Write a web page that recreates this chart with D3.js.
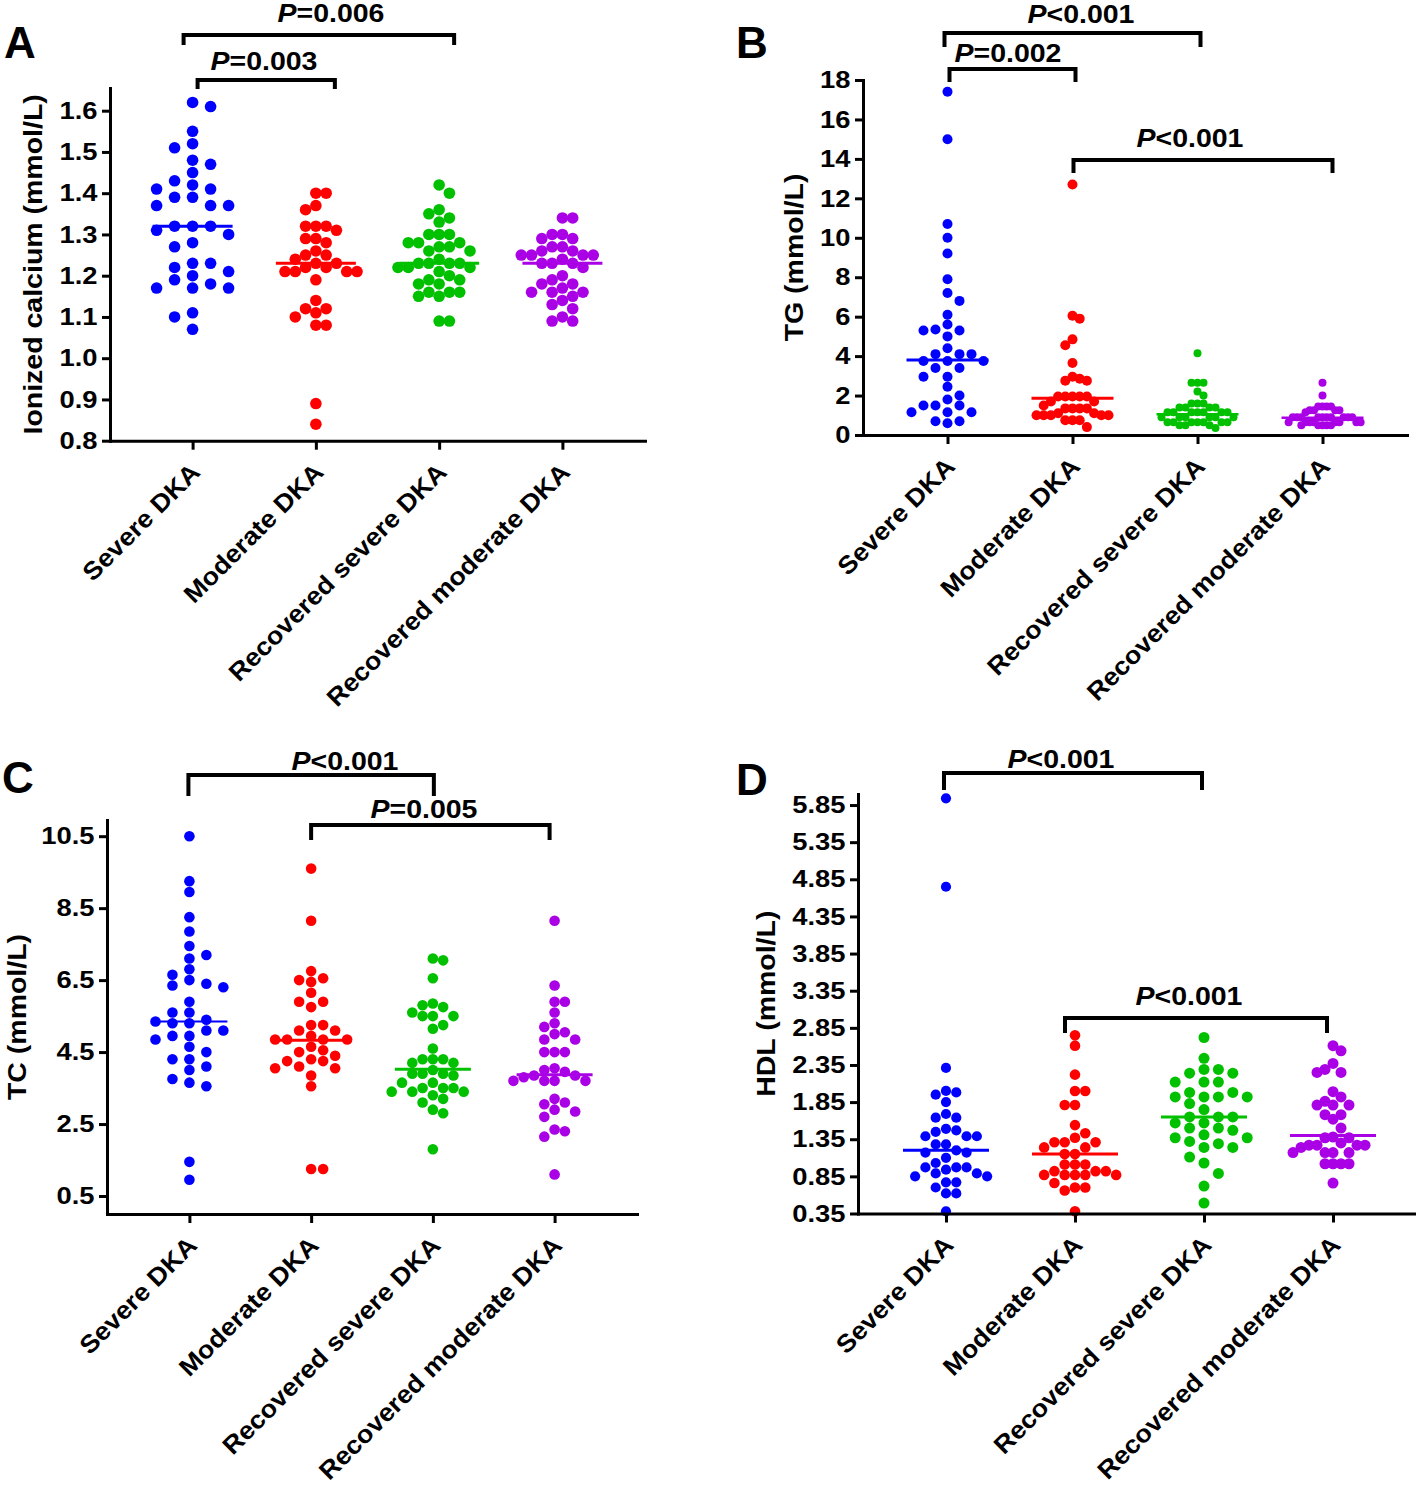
<!DOCTYPE html>
<html><head><meta charset="utf-8">
<script src="https://cdn.jsdelivr.net/npm/d3@7"></script>
<style>
body{margin:0;background:#fff}
svg{display:block}
text{font-family:"Liberation Sans",Arial,sans-serif;font-weight:bold;fill:#000}
</style>
</head><body>
<svg id="chart" width="1416" height="1493"></svg>
<script>
// ---------------- DATA ----------------
const categories = ["Severe DKA","Moderate DKA","Recovered severe DKA","Recovered moderate DKA"];
const groupColors = ["#0000ff","#ff0000","#00c000","#aa00e6"];

// Panel A: Ionized calcium (mmol/L)
const caSevere = [1.62,1.61,1.55,1.52,1.51,1.48,1.47,1.45,1.43,1.42,1.41,1.41,1.39,1.39,1.37,1.37,1.37,1.32,1.32,1.32,1.31,1.30,1.28,1.27,1.23,1.23,1.22,1.21,1.20,1.19,1.18,1.17,1.17,1.17,1.11,1.10,1.07];
const caModerate = [1.40,1.40,1.37,1.36,1.32,1.32,1.32,1.31,1.29,1.29,1.28,1.26,1.25,1.25,1.24,1.23,1.23,1.22,1.22,1.21,1.21,1.21,1.21,1.19,1.14,1.12,1.12,1.11,1.10,1.08,1.08,0.89,0.84];
const caRecSevere = [1.42,1.40,1.36,1.35,1.34,1.33,1.30,1.30,1.30,1.28,1.28,1.28,1.27,1.27,1.26,1.26,1.24,1.23,1.23,1.23,1.23,1.22,1.22,1.22,1.21,1.20,1.19,1.19,1.18,1.18,1.16,1.16,1.16,1.15,1.15,1.09,1.09];
const caRecModerate = [1.34,1.34,1.30,1.30,1.29,1.29,1.27,1.27,1.26,1.26,1.25,1.25,1.25,1.25,1.24,1.23,1.23,1.23,1.22,1.20,1.19,1.18,1.18,1.17,1.16,1.16,1.16,1.15,1.14,1.13,1.12,1.10,1.09,1.09];
const caMedians = [1.32,1.23,1.23,1.23];
const caTicks = [0.8,0.9,1.0,1.1,1.2,1.3,1.4,1.5,1.6];

// Panel B: TG (mmol/L)
const tgSevere = [17.4,15.0,10.7,10.0,9.2,7.9,7.2,6.8,6.1,5.6,5.35,5.3,5.3,5.0,4.4,4.1,4.1,4.1,3.75,3.75,3.75,3.4,3.4,2.95,2.95,2.45,2.0,1.8,1.5,1.5,1.5,1.15,1.15,1.15,0.7,0.7,0.6];
const tgModerate = [12.7,6.05,5.9,4.85,4.55,3.65,2.95,2.85,2.75,2.75,1.95,1.95,1.95,1.95,1.95,1.7,1.7,1.5,1.35,1.35,1.35,1.35,1.1,1.1,1.0,1.0,1.0,1.0,1.0,0.75,0.75,0.75,0.4];
const tgRecSevere = [4.15,2.65,2.65,2.65,2.2,2.0,1.6,1.6,1.6,1.4,1.4,1.4,1.4,1.15,1.15,1.15,1.15,1.15,1.15,1.15,0.9,0.9,0.9,0.9,0.9,0.9,0.65,0.65,0.65,0.65,0.65,0.65,0.65,0.5,0.5,0.5,0.35];
const tgRecModerate = [2.65,2.0,1.45,1.45,1.45,1.45,1.25,1.25,1.25,1.25,1.15,0.9,0.9,0.9,0.9,0.9,0.9,0.9,0.9,0.9,0.9,0.65,0.65,0.65,0.65,0.65,0.65,0.65,0.65,0.5,0.5,0.5,0.5,0.5];
const tgMedians = [3.8,1.86,1.05,0.88];
const tgTicks = [0,2,4,6,8,10,12,14,16,18];

// Panel C: TC (mmol/L)
const tcSevere = [10.5,9.25,8.95,8.25,7.85,7.45,7.2,7.1,6.8,6.65,6.5,6.4,6.35,6.3,5.9,5.6,5.6,5.4,5.35,5.3,5.3,5.1,5.1,4.95,4.95,4.85,4.65,4.5,4.3,4.3,4.1,4.0,3.75,3.65,3.55,1.45,0.95];
const tcModerate = [9.6,8.15,6.75,6.55,6.5,6.45,6.15,5.9,5.9,5.75,5.25,5.25,5.1,5.1,4.95,4.85,4.85,4.85,4.85,4.65,4.55,4.5,4.4,4.3,4.25,4.25,4.1,4.05,4.05,3.85,3.55,1.25,1.25];
const tcRecSevere = [7.1,7.05,6.55,5.85,5.8,5.75,5.6,5.5,5.5,5.5,5.25,5.15,4.6,4.3,4.3,4.3,4.2,4.2,4.0,3.9,3.9,3.9,3.85,3.65,3.65,3.5,3.5,3.5,3.4,3.4,3.4,3.3,3.2,3.1,2.9,2.8,1.8];
const tcRecModerate = [8.15,6.35,5.9,5.9,5.6,5.3,5.2,5.05,5.0,4.85,4.85,4.5,4.5,4.5,4.05,4.0,3.95,3.85,3.85,3.8,3.7,3.7,3.7,3.7,3.2,3.1,3.05,2.9,2.85,2.7,2.35,2.3,2.15,1.1];
const tcMedians = [5.35,4.83,4.02,3.87];
const tcTicks = [0.5,2.5,4.5,6.5,8.5,10.5];

// Panel D: HDL (mmol/L)
const hdlSevere = [5.94,4.75,2.31,2.0,1.98,1.95,1.85,1.69,1.64,1.64,1.49,1.47,1.45,1.39,1.39,1.39,1.28,1.28,1.2,1.17,1.17,1.1,1.03,0.97,0.97,0.97,0.94,0.89,0.89,0.85,0.85,0.77,0.77,0.7,0.62,0.62,0.38];
const hdlModerate = [2.75,2.61,2.22,2.0,2.0,1.81,1.81,1.54,1.43,1.37,1.31,1.31,1.31,1.24,1.24,1.15,1.15,1.01,1.01,1.01,0.92,0.92,0.92,0.87,0.87,0.87,0.87,0.87,0.76,0.7,0.7,0.66,0.38];
const hdlRecSevere = [2.72,2.44,2.29,2.29,2.24,2.24,2.12,2.12,2.12,1.98,1.98,1.92,1.92,1.92,1.92,1.83,1.75,1.65,1.65,1.65,1.57,1.57,1.5,1.5,1.47,1.41,1.37,1.37,1.32,1.29,1.24,1.24,1.11,1.03,0.89,0.72,0.49];
const hdlRecModerate = [2.61,2.54,2.37,2.29,2.25,2.25,1.99,1.92,1.86,1.81,1.81,1.81,1.68,1.68,1.62,1.5,1.38,1.37,1.37,1.3,1.27,1.27,1.27,1.27,1.24,1.17,1.17,1.17,1.17,1.02,1.02,1.02,1.02,0.76];
const hdlMedians = [1.20,1.15,1.65,1.40];
const hdlTicks = [0.35,0.85,1.35,1.85,2.35,2.85,3.35,3.85,4.35,4.85,5.35,5.85];

// Significance comparisons (group indices + label)
const caComparisons = [{a:0,b:2,p:"=0.006"},{a:0,b:1,p:"=0.003"}];
const tgComparisons = [{a:0,b:2,p:"<0.001"},{a:0,b:1,p:"=0.002"},{a:1,b:3,p:"<0.001"}];
const tcComparisons = [{a:0,b:2,p:"<0.001"},{a:1,b:3,p:"=0.005"}];
const hdlComparisons = [{a:0,b:2,p:"<0.001"},{a:1,b:3,p:"<0.001"}];

// ---------------- LAYOUT ----------------
const K = 1.14;     // horizontal text stretch
const KCAT = 1.075; // stretch for category labels
const panels = [
  {letter:"A", lx:4, ly:58, left:110, right:645, top:88, bottom:440.7, domain:[0.8,1.655],
   groups:[caSevere,caModerate,caRecSevere,caRecModerate], medians:caMedians, ticks:caTicks, fmt:d3.format(".1f"),
   title:"Ionized calcium (mmol/L)", tx:42, r:[5.8,5.8,5.8,5.8], medW:80, medSW:[3,3,3,3], pad:0.67,
   comps:caComparisons, br:[{y:35,leg:10,dxa:-9,dxb:15,lcx:331,lby:22},{y:80,leg:9,dxa:5,dxb:19,lcx:264,lby:70}]},
  {letter:"B", lx:736, ly:58, left:863, right:1407, top:80, bottom:435, domain:[0,18],
   groups:[tgSevere,tgModerate,tgRecSevere,tgRecModerate], medians:tgMedians, ticks:tgTicks, fmt:d3.format("d"),
   title:"TG (mmol/L)", tx:803, r:[5,5,4,4], medW:82, medSW:[3,3,2.5,2.5], pad:0.676,
   comps:tgComparisons, br:[{y:33,leg:14,dxa:-3,dxb:3,lcx:1081,lby:23},{y:69,leg:13,dxa:2,dxb:3,lcx:1008,lby:62},{y:160,leg:13,dxa:1,dxb:10,lcx:1190,lby:147}]},
  {letter:"C", lx:2, ly:793, left:107, right:637, top:820, bottom:1214, domain:[0,10.95],
   groups:[tcSevere,tcModerate,tcRecSevere,tcRecModerate], medians:tcMedians, ticks:tcTicks, fmt:d3.format(".1f"),
   title:"TC (mmol/L)", tx:26, r:[5.3,5.3,5.3,5.3], medW:76, medSW:[2,3,3,3], pad:0.677,
   comps:tcComparisons, br:[{y:775,leg:21,dxa:-1,dxb:1,lcx:345,lby:770},{y:825,leg:15,dxa:0,dxb:-5,lcx:424,lby:818}]},
  {letter:"D", lx:736, ly:795, left:858, right:1421, top:793.9, bottom:1213.5, domain:[0.35,6.0],
   groups:[hdlSevere,hdlModerate,hdlRecSevere,hdlRecModerate], medians:hdlMedians, ticks:hdlTicks, fmt:d3.format(".2f"),
   title:"HDL (mmol/L)", tx:775, r:[5.1,5.3,5.5,5.5], medW:86, medSW:[3,3,3,3], pad:0.682,
   comps:hdlComparisons, br:[{y:773,leg:17,dxa:-2,dxb:-2,lcx:1061,lby:768},{y:1018,leg:15,dxa:-10,dxb:-6,lcx:1189,lby:1005}]}
];

const svg = d3.select("#chart");

// column-based dot-plot layout (GraphPad-like)
function swarm(values, y, cx, r, W){
  const pts = values.map(v => ({v, y:y(v)}));
  const order = pts.slice().sort((a,b)=>a.y-b.y);
  const placed = [];
  let pref = 1;
  for (const p of order){
    for (let k=0;;k++){
      const cands = k===0 ? [0] : [pref*k, -pref*k];
      let found = null;
      for (const c of cands){
        if (!placed.some(q => q.col===c && Math.abs(q.y-p.y) < 2*r*0.97)) { found = c; break; }
      }
      if (found!==null){ p.col = found; placed.push(p); if (found!==0) pref = -Math.sign(found); break; }
    }
  }
  const minC = d3.min(pts,p=>p.col), maxC = d3.max(pts,p=>p.col);
  const span = maxC-minC;
  const s = span>0 ? Math.min(W/span, 2*r*1.6) : 0;
  pts.forEach(p => p.x = cx + p.col*s);
  return pts;
}

panels.forEach(P => {
  const g = svg.append("g");
  const y = d3.scaleLinear().domain(P.domain).range([P.bottom, P.top]);
  const x = d3.scalePoint().domain(categories).range([P.left, P.right]).padding(P.pad);

  // points
  P.groups.forEach((vals, gi) => {
    const pts = swarm(vals, y, x(categories[gi]), P.r[gi], 72);
    g.append("g").selectAll("circle").data(pts).join("circle")
      .attr("cx", d=>d.x).attr("cy", d=>d.y).attr("r", P.r[gi])
      .attr("fill", groupColors[gi]);
  });
  // medians
  g.append("g").selectAll("line").data(P.medians).join("line")
    .attr("x1",(d,i)=>x(categories[i])-P.medW/2).attr("x2",(d,i)=>x(categories[i])+P.medW/2)
    .attr("y1",d=>y(d)).attr("y2",d=>y(d))
    .attr("stroke",(d,i)=>groupColors[i]).attr("stroke-width",(d,i)=>P.medSW[i]);

  // y axis
  const ya = g.append("g").attr("transform",`translate(${P.left},0)`)
    .call(d3.axisLeft(y).tickValues(P.ticks).tickFormat(P.fmt).tickSize(8).tickSizeOuter(0).tickPadding(3));
  ya.select(".domain").attr("stroke-width",3).attr("stroke-linecap","square");
  ya.selectAll(".tick line").attr("stroke-width",3);
  ya.selectAll(".tick text").attr("font-size",24).attr("font-family",null).attr("transform",`scale(${K},1)`);

  // x axis
  const xa = g.append("g").attr("transform",`translate(0,${P.bottom})`)
    .call(d3.axisBottom(x).tickSize(9).tickSizeOuter(0).tickFormat(""));
  xa.select(".domain").attr("stroke-width",3).attr("stroke-linecap","square");
  xa.selectAll(".tick line").attr("stroke-width",3);
  xa.selectAll(".tick text").remove();

  // category labels
  g.append("g").selectAll("text").data(categories).join("text")
    .attr("transform", d => `translate(${x(d)+9},${P.bottom+33}) rotate(-45) scale(${KCAT},1)`)
    .attr("text-anchor","end").attr("font-size",25).text(d=>d);

  // y title
  g.append("text")
    .attr("transform",`translate(${P.tx},${(P.top+P.bottom)/2}) rotate(-90) scale(${K},1)`)
    .attr("text-anchor","middle").attr("font-size",25).text(P.title);

  // panel letter
  g.append("text").attr("x",P.lx).attr("y",P.ly).attr("font-size",44).text(P.letter);

  // brackets
  P.comps.forEach((c,i) => {
    const b = P.br[i];
    const xa_ = x(categories[c.a]) + b.dxa, xb_ = x(categories[c.b]) + b.dxb;
    g.append("path")
      .attr("d", d3.line()([[xa_, b.y+b.leg],[xa_, b.y],[xb_, b.y],[xb_, b.y+b.leg]]))
      .attr("fill","none").attr("stroke","#000").attr("stroke-width",4).attr("stroke-linejoin","miter");
    const t = g.append("text").attr("transform",`translate(${b.lcx},${b.lby}) scale(${K},1)`)
      .attr("text-anchor","middle").attr("font-size",25);
    t.append("tspan").attr("font-style","italic").text("P");
    t.append("tspan").text(c.p);
  });
});
</script>
</body></html>
